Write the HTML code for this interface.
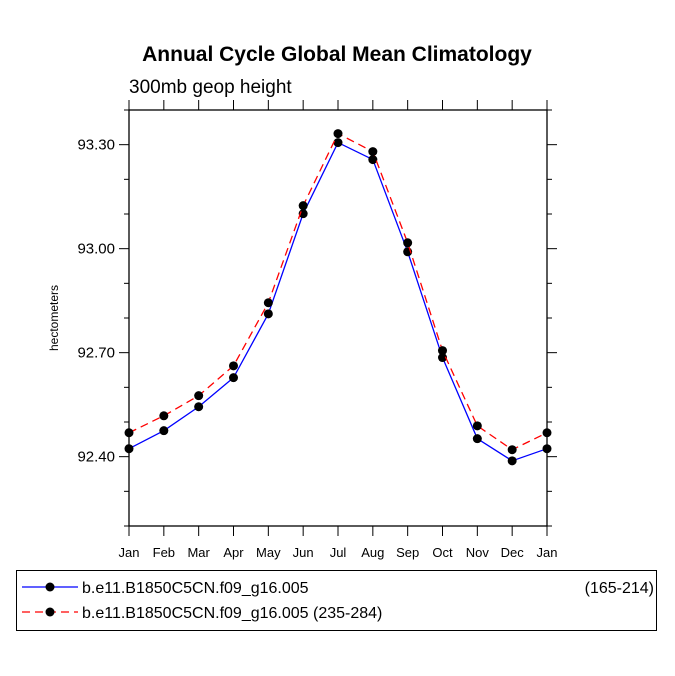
<!DOCTYPE html>
<html><head><meta charset="utf-8"><style>
body{margin:0;background:#fff;}
svg{display:block;font-family:"Liberation Sans",Helvetica,Arial,sans-serif;}
</style></head><body>
<svg id="chart" width="675" height="676">
<text x="337" y="61" text-anchor="middle" font-size="21" font-weight="bold">Annual Cycle Global Mean Climatology</text>
<text x="129" y="93" font-size="19">300mb geop height</text>
<text transform="translate(58,318) rotate(-90)" text-anchor="middle" font-size="12">hectometers</text>
<g id="axes"></g>
<g id="series"></g>
<rect x="16.5" y="570.5" width="640" height="60" fill="none" stroke="#000" stroke-width="1"/>
<g>
<line x1="22" y1="587" x2="78" y2="587" stroke="#0000ff" stroke-width="1.3"/>
<circle cx="50" cy="587" r="4.5" fill="#000"/>
<text x="82" y="593" font-size="16">b.e11.B1850C5CN.f09_g16.005</text>
<text x="654" y="593" font-size="16" text-anchor="end">(165-214)</text>
</g>
<g>
<line x1="22" y1="612" x2="78" y2="612" stroke="#ff0000" stroke-width="1.3" stroke-dasharray="8,5"/>
<circle cx="50" cy="612" r="4.5" fill="#000"/>
<text x="82" y="618" font-size="16">b.e11.B1850C5CN.f09_g16.005 (235-284)</text>
</g>
</svg>
<script>
const months = ["Jan","Feb","Mar","Apr","May","Jun","Jul","Aug","Sep","Oct","Nov","Dec","Jan"];
const seriesA = [92.423,92.475,92.544,92.628,92.812,93.101,93.306,93.257,92.991,92.686,92.452,92.388,92.423];
const seriesB = [92.469,92.518,92.576,92.662,92.844,93.124,93.332,93.280,93.017,92.706,92.489,92.420,92.469];
const yTicks = [92.40,92.70,93.00,93.30];
const yTickLabels = ["92.40","92.70","93.00","93.30"];
const yMin = 92.2, yMax = 93.4;
const L=129,R=547,T=110,B=526;
const NS="http://www.w3.org/2000/svg";
function xs(i){return L+(R-L)*i/(months.length-1);}
function ys(v){return B-(v-yMin)/(yMax-yMin)*(B-T);}
function mk(tag,attrs,parent){const e=document.createElementNS(NS,tag);for(const k in attrs)e.setAttribute(k,attrs[k]);parent.appendChild(e);return e;}
const ax=document.getElementById('axes');
const frame=mk('rect',{x:L,y:T,width:R-L,height:B-T,fill:'none',stroke:'#000','stroke-width':1.3},ax);


months.forEach((m,i)=>{
  const x=xs(i);
  mk('line',{x1:x,y1:B,x2:x,y2:B+10,stroke:'#000'},ax);
  mk('line',{x1:x,y1:T,x2:x,y2:T-10,stroke:'#000'},ax);
  const t=mk('text',{x:x,y:B+31,'text-anchor':'middle','font-size':13},ax);
  t.textContent=m;
  
  
});
for(let k=0;k<=12;k++){
  const v=yMin+k*0.1, y=ys(v);
  const major=yTicks.some(t=>Math.abs(t-v)<1e-6);
  const len=major?10:5;
  mk('line',{x1:L,y1:y,x2:L-len,y2:y,stroke:'#000'},ax);
  mk('line',{x1:R,y1:y,x2:R+len,y2:y,stroke:'#000'},ax);
}
yTicks.forEach((v,i)=>{
  const t=mk('text',{x:L-14,y:ys(v)+5,'text-anchor':'end','font-size':15},ax);
  t.textContent=yTickLabels[i];
  
  
});
const sg=document.getElementById('series');
function draw(vals,color,dash,name){
  const g=mk('g',{},sg);
  
  
  const pts=vals.map((v,i)=>xs(i)+','+ys(v)).join(' ');
  const a={points:pts,fill:'none',stroke:color,'stroke-width':1.3};
  if(dash)a['stroke-dasharray']=dash;
  mk('polyline',a,g);
  vals.forEach((v,i)=>{
    const c=mk('circle',{cx:xs(i),cy:ys(v),r:4.5,fill:'#000'},g);
    
    
  });
}
draw(seriesA,'#0000ff',null,'series-165-214');
draw(seriesB,'#ff0000','8,5','series-235-284');
</script>
</body></html>
